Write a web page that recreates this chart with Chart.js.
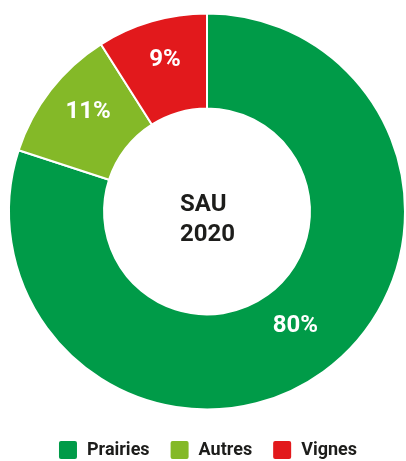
<!DOCTYPE html>
<html>
<head>
<meta charset="utf-8">
<script src="https://cdn.jsdelivr.net/npm/chart.js@4.4.1/dist/chart.umd.min.js"></script>
<style>
  html, body { margin: 0; padding: 0; background: #fff; }
  #wrap { width: 406px; height: 461px; position: relative; }
</style>
</head>
<body>
<div id="wrap"><canvas id="sauChart"></canvas></div>
<script>
const categories = ['Prairies', 'Autres', 'Vignes'];
const shares = [80, 11, 9];
const sliceColors = ['#009b48', '#84b928', '#e2191c'];
const centerLines = ['SAU', '2020'];

const FONT = 'Roboto, "Noto Sans", sans-serif';

// percentages written on each slice + the title in the hole
const sliceLabels = {
    id: 'sliceLabels',
    afterLayout(chart) {
        // push the legend row a bit lower, closer to the bottom edge
        chart.legend.top += 9;
        chart.legend.bottom += 9;
    },
    afterDatasetsDraw(chart) {
        const ctx = chart.ctx;
        const meta = chart.getDatasetMeta(0);
        ctx.save();
        ctx.font = 'bold 24px ' + FONT;
        ctx.fillStyle = '#ffffff';
        ctx.textAlign = 'center';
        ctx.textBaseline = 'middle';
        meta.data.forEach((arc, i) => {
            const pos = arc.tooltipPosition();
            ctx.fillText(shares[i] + '%', pos.x, pos.y - 7);
        });
        const first = meta.data[0];
        ctx.fillStyle = '#1d1d1b';
        ctx.textAlign = 'left';
        ctx.fillText(centerLines[0], first.x - 27, first.y - 7);
        ctx.fillText(centerLines[1], first.x - 27, first.y + 23);
        ctx.restore();
    }
};

const ctx = document.getElementById('sauChart').getContext('2d');
const chart = new Chart(ctx, {
    type: 'doughnut',
    data: {
        labels: categories,
        datasets: [{
            data: shares,
            backgroundColor: sliceColors,
            borderColor: '#ffffff',
            borderWidth: 2,
            hoverOffset: 0
        }]
    },
    options: {
        responsive: true,
        maintainAspectRatio: false,
        animation: false,
        cutout: '52%',
        layout: { padding: { top: 12, left: 8, right: -1, bottom: 0 } },
        plugins: {
            tooltip: { enabled: false },
            legend: {
                position: 'bottom',
                labels: {
                    boxWidth: 20,
                    boxHeight: 20,
                    useBorderRadius: true,
                    borderRadius: 3,
                    padding: 20,
                    color: '#1d1d1b',
                    font: { family: FONT, size: 18, weight: 'bold' }
                }
            }
        }
    },
    plugins: [sliceLabels]
});
</script>
</body>
</html>
